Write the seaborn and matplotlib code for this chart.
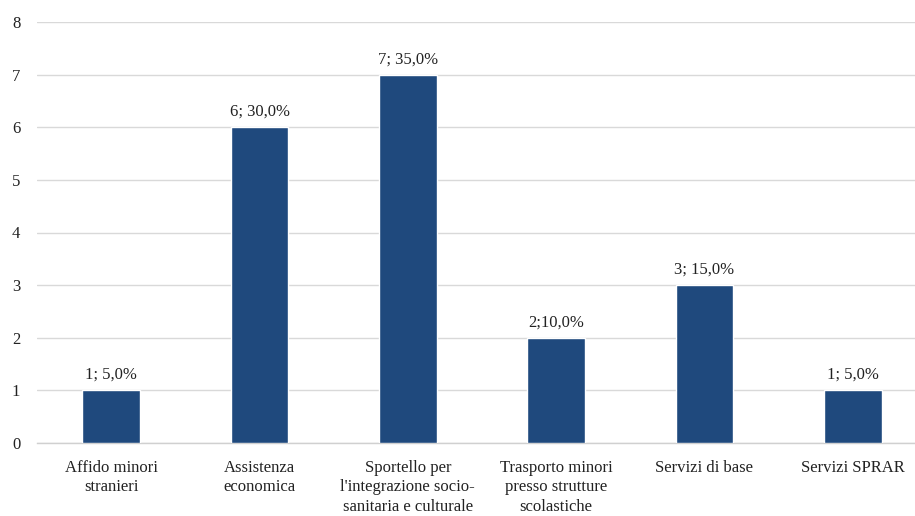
import matplotlib
matplotlib.use("Agg")
import matplotlib.pyplot as plt
import seaborn as sns
import pandas as pd

categories = [
    "Affido minori\nstranieri",
    "Assistenza\neconomica",
    "Sportello per\nl'integrazione socio-\nsanitaria e culturale",
    "Trasporto minori\npresso strutture\nscolastiche",
    "Servizi di base",
    "Servizi SPRAR",
]
counts = [1, 6, 7, 2, 3, 1]
value_labels = ["1; 5,0%", "6; 30,0%", "7; 35,0%", "2;10,0%", "3; 15,0%", "1; 5,0%"]
y_ticks = [0, 1, 2, 3, 4, 5, 6, 7, 8]

df = pd.DataFrame({"categoria": categories, "n": counts})

sns.set_style("white")
plt.rcParams["font.family"] = ["Liberation Serif", "DejaVu Serif"]

fig = plt.figure(figsize=(9.15, 5.16), dpi=100)
ax = fig.add_axes([37 / 915, (516 - 443) / 516, 890 / 915, 421 / 516])

sns.barplot(data=df, x="categoria", y="n", color="#1F497D", width=0.39,
            saturation=1, ax=ax, zorder=3)

for i, (v, lab) in enumerate(zip(counts, value_labels)):
    ax.text(i, v + 0.14, lab, ha="center", va="bottom", fontsize=12,
            color="#222222")

ax.set_xlim(-0.5, len(categories) - 0.5)
ax.set_ylim(0, 8)
ax.set_yticks(y_ticks)
ax.set_yticklabels([str(t) for t in y_ticks])
ax.yaxis.grid(True, color="#D9D9D9", linewidth=1, zorder=0)
ax.set_axisbelow(True)
ax.set_xlabel("")
ax.set_ylabel("")

for s in ["top", "right", "left"]:
    ax.spines[s].set_visible(False)
ax.spines["bottom"].set_color("#D0D0D0")
ax.spines["bottom"].set_linewidth(1)

ax.tick_params(axis="y", length=0, pad=12, labelsize=12, labelcolor="#222222")
ax.tick_params(axis="x", length=0, pad=12, labelsize=12, labelcolor="#222222")
for lbl in ax.get_xticklabels():
    lbl.set_linespacing(1.3)

# separator ticks between categories
ax.set_xticks([i + 0.5 for i in range(-1, len(categories))], minor=True)
ax.tick_params(axis="x", which="minor", length=5, color="#D0D0D0", width=1,
               direction="out")

fig.savefig("out.png", dpi=100)
